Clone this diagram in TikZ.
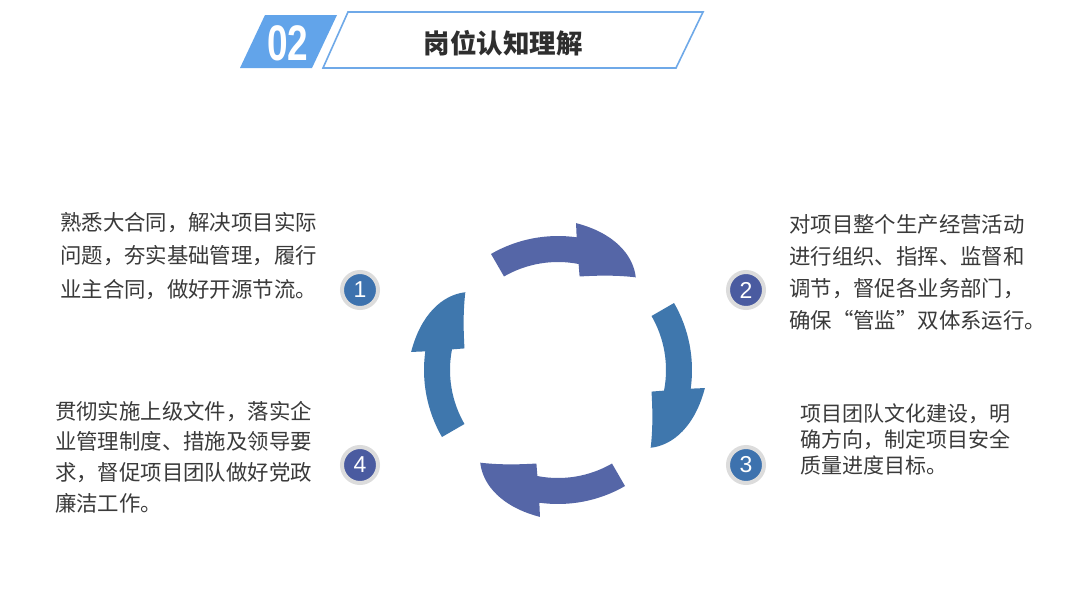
\documentclass[tikz,border=0pt]{standalone}
\usepackage{fontspec}
\newfontfamily\cjk{Noto Sans CJK SC}
\newfontfamily\arial{Liberation Sans}
\definecolor{arrInd}{HTML}{5566A7}
\definecolor{arrSteel}{HTML}{3F77AD}
\definecolor{badgeSteel}{HTML}{3D72AE}
\definecolor{badgeInd}{HTML}{4A5BA0}
\definecolor{ringgray}{HTML}{DCDCDC}
\definecolor{txt}{HTML}{3A3A3A}
\definecolor{hdrfill}{HTML}{62A4EA}
\definecolor{hdrline}{HTML}{6FA9E8}
\definecolor{titletxt}{HTML}{2E2E2E}
\begin{document}
\begin{tikzpicture}[x=1pt,y=-1pt,
  body/.style={text=txt, align=left, anchor=west, inner sep=0pt},
  badge/.style={circle, inner sep=0pt, minimum size=36pt, draw=ringgray, line width=4pt, text=white, font=\arial\fontsize{23}{23}\selectfont}]
\useasboundingbox[fill=white] (0,0) rectangle (1080,598);

% header
\fill[hdrfill] (265,15) -- (337,15) -- (312,68) -- (240,68) -- cycle;
\node[text=white, font=\arial\bfseries\fontsize{50}{50}\selectfont, xscale=0.74, transform shape, inner sep=0pt] (num) at (288,43) {02};
\draw[hdrline, line width=1.6pt, line join=miter] (348,12) -- (703,12) -- (676,68) -- (323,68) -- cycle;
\node[text=titletxt, font=\cjk\bfseries\fontsize{26.5}{26.5}\selectfont, inner sep=0pt] (title) at (503,43) {岗位认知理解};

% cycle arrows
\begin{scope}[shift={(558,370)}, yscale=-1]
\foreach \a/\c in {120/arrInd, 30/arrSteel, -60/arrInd, -150/arrSteel}{
  \fill[\c] (\a:108) -- (\a:134) arc[start angle=\a, end angle=\a-38, radius=134]
    -- ({\a-37}:148) .. controls ({\a-52}:148) and ({\a-63}:138) .. ({\a-70}:121)
    .. controls ({\a-60}:110) and ({\a-51}:101) .. ({\a-43}:96)
    -- ({\a-41}:108) arc[start angle=\a-41, end angle=\a, radius=108] -- cycle;
}
\end{scope}

% badges
\node[badge, fill=badgeSteel] (n1) at (360,290) {1};
\node[badge, fill=badgeInd] (n2) at (746,290) {2};
\node[badge, fill=badgeSteel] (n3) at (746,465) {3};
\node[badge, fill=badgeInd] (n4) at (360,465) {4};

% texts
\node[body, font=\cjk\fontsize{21.4}{33.5}\selectfont] (t1) at (60,256)
  {熟悉大合同，解决项目实际\\问题，夯实基础管理，履行\\业主合同，做好开源节流。};
\node[body, font=\cjk\fontsize{21.4}{32}\selectfont] (t2) at (789,272)
  {对项目整个生产经营活动\\进行组织、指挥、监督和\\调节，督促各业务部门，\\确保“管监”双体系运行。};
\node[body, font=\cjk\fontsize{21}{26}\selectfont] (t3) at (800,439)
  {项目团队文化建设，明\\确方向，制定项目安全\\质量进度目标。};
\node[body, font=\cjk\fontsize{21.4}{30.7}\selectfont] (t4) at (55,457)
  {贯彻实施上级文件，落实企\\业管理制度、措施及领导要\\求，督促项目团队做好党政\\廉洁工作。};
\end{tikzpicture}
\end{document}
